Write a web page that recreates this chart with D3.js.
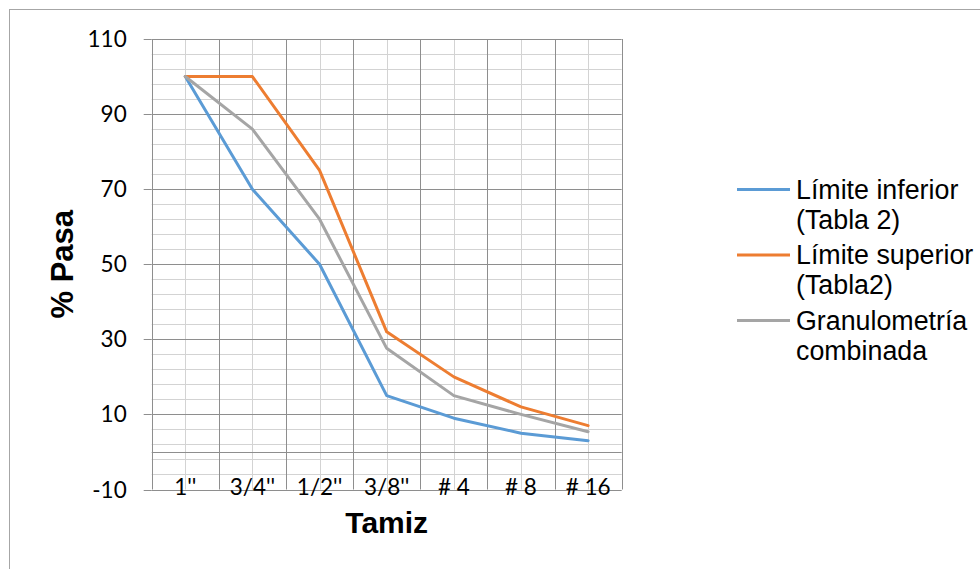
<!DOCTYPE html>
<html>
<head>
<meta charset="utf-8">
<script src="https://cdn.jsdelivr.net/npm/d3@7/dist/d3.min.js"></script>
<style>
  html, body { margin: 0; padding: 0; background: #ffffff; }
  svg { display: block; }
</style>
</head>
<body>
<svg id="chart" width="980" height="569"></svg>
<script>
// Sieve sizes (categories)
const categories = ["1''", "3/4''", "1/2''", "3/8''", "# 4", "# 8", "# 16"];

// Percent passing for each curve
const limiteInferior = [100, 70, 50, 15, 9, 5, 3];
const limiteSuperior = [100, 100, 75, 32, 20, 12, 7];
const granulometria  = [100, 86, 62, 27.6, 15, 10, 5.4];

// Axis ticks
const yMajorTicks = [-10, 10, 30, 50, 70, 90, 110];
const yMinorStep = 4;

const seriesNames = ["Límite inferior\n(Tabla 2)", "Límite superior\n(Tabla2)", "Granulometría\ncombinada"];
const seriesColors = ["#5b9bd5", "#ed7d31", "#a5a5a5"];

const series = [limiteInferior, limiteSuperior, granulometria].map((values, i) => ({
  name: seriesNames[i],
  color: seriesColors[i],
  values: values
}));

const svg = d3.select("#chart");

// Plot area
const plot = { left: 151.7, right: 621.7, top: 39, bottom: 489.5 };

const x = d3.scaleBand().domain(categories).range([plot.left, plot.right]).padding(0);
const y = d3.scaleLinear().domain([-10, 110]).range([plot.bottom, plot.top]);
const cx = c => x(c) + x.bandwidth() / 2;

// Outer chart border
svg.append("rect")
  .attr("x", 9.5).attr("y", 9.5)
  .attr("width", 1000).attr("height", 600)
  .attr("fill", "none").attr("stroke", "#a6a6a6").attr("stroke-width", 1);

const grid = svg.append("g");

// Minor horizontal gridlines
const yMinor = d3.range(-10, 110.001, yMinorStep).filter(v => !yMajorTicks.includes(v));
grid.selectAll("line.hmin").data(yMinor).join("line")
  .attr("class", "hmin")
  .attr("x1", plot.left).attr("x2", plot.right)
  .attr("y1", d => Math.round(y(d)) + 0.5).attr("y2", d => Math.round(y(d)) + 0.5)
  .attr("stroke", "#d3d3d3").attr("stroke-width", 1);

// Minor vertical gridlines at category centres
grid.selectAll("line.vmin").data(categories).join("line")
  .attr("class", "vmin")
  .attr("x1", d => Math.round(cx(d)) + 0.5).attr("x2", d => Math.round(cx(d)) + 0.5)
  .attr("y1", plot.top).attr("y2", plot.bottom)
  .attr("stroke", "#d3d3d3").attr("stroke-width", 1);

// Major vertical gridlines at category boundaries
const bounds = categories.map(c => x(c)).concat([plot.right]);
grid.selectAll("line.vmaj").data(bounds).join("line")
  .attr("class", "vmaj")
  .attr("x1", d => Math.round(d) + 0.5).attr("x2", d => Math.round(d) + 0.5)
  .attr("y1", plot.top).attr("y2", plot.bottom)
  .attr("stroke", "#8e8e8e").attr("stroke-width", 1);

// Y axis: major gridlines + outside tick marks + labels
const yAxis = d3.axisLeft(y)
  .tickValues(yMajorTicks)
  .tickSize(8)
  .tickPadding(17)
  .tickFormat(d => String(d));

const yAxisG = svg.append("g")
  .attr("transform", `translate(${plot.left},0)`)
  .call(yAxis);
yAxisG.select(".domain").remove();
yAxisG.selectAll(".tick line")
  .attr("x2", -8)
  .attr("stroke", "#8e8e8e");
// extend each major tick across the plot as a gridline
yAxisG.selectAll(".tick").append("line")
  .attr("x1", 0).attr("x2", plot.right - plot.left)
  .attr("stroke", "#8e8e8e");
yAxisG.selectAll(".tick").each(function(d) {
  const t = d3.select(this);
  const yy = Math.round(y(d)) + 0.5;
  t.attr("transform", `translate(0,${yy})`);
});
yAxisG.selectAll(".tick text")
  .attr("font-family", "Lato, 'Open Sans', sans-serif")
  .attr("font-size", 22.5)
  .attr("fill", "#000");

// Category axis line at zero
svg.append("line")
  .attr("x1", plot.left).attr("x2", plot.right)
  .attr("y1", Math.round(y(0)) + 0.5).attr("y2", Math.round(y(0)) + 0.5)
  .attr("stroke", "#8e8e8e").attr("stroke-width", 1);

// Category labels along the bottom of the plot
const xAxisG = svg.append("g")
  .attr("transform", `translate(0,${plot.bottom})`)
  .call(d3.axisBottom(x).tickSize(0).tickPadding(0));
xAxisG.select(".domain").remove();
xAxisG.selectAll(".tick text")
  .attr("y", 5.5)
  .attr("dy", 0)
  .attr("font-family", "Lato, 'Open Sans', sans-serif")
  .attr("font-size", 22.5)
  .attr("fill", "#000");

// Series lines
const line = d3.line()
  .x((d, i) => cx(categories[i]))
  .y(d => y(d));

svg.append("g").selectAll("path").data(series).join("path")
  .attr("d", d => line(d.values))
  .attr("fill", "none")
  .attr("stroke", d => d.color)
  .attr("stroke-width", 3)
  .attr("stroke-linejoin", "round")
  .attr("stroke-linecap", "round");

// Axis titles
svg.append("text")
  .attr("transform", `translate(72.5,${(plot.top + plot.bottom) / 2 + 0}) rotate(-90)`)
  .attr("text-anchor", "middle")
  .attr("font-family", "'Liberation Sans', Arial, sans-serif")
  .attr("font-weight", "bold")
  .attr("font-size", 31)
  .attr("fill", "#000")
  .text("% Pasa");

svg.append("text")
  .attr("x", (plot.left + plot.right) / 2)
  .attr("y", 533)
  .attr("text-anchor", "middle")
  .attr("font-family", "'Liberation Sans', Arial, sans-serif")
  .attr("font-weight", "bold")
  .attr("font-size", 30)
  .attr("fill", "#000")
  .text("Tamiz");

// Legend
const legend = svg.append("g").attr("transform", "translate(737,189.5)");
const item = legend.selectAll("g").data(series).join("g")
  .attr("transform", (d, i) => `translate(0,${i * 65.5})`);
item.append("line")
  .attr("x1", 0).attr("x2", 53)
  .attr("stroke", d => d.color)
  .attr("stroke-width", 3);
item.append("text")
  .attr("x", 59)
  .attr("font-family", "'Liberation Sans', Arial, sans-serif")
  .attr("font-size", 26.8)
  .attr("fill", "#000")
  .selectAll("tspan")
  .data(d => d.name.split("\n"))
  .join("tspan")
  .attr("x", 59)
  .attr("y", (d, i) => i * 30)
  .attr("dy", "0.35em")
  .text(d => d);
</script>
</body>
</html>
